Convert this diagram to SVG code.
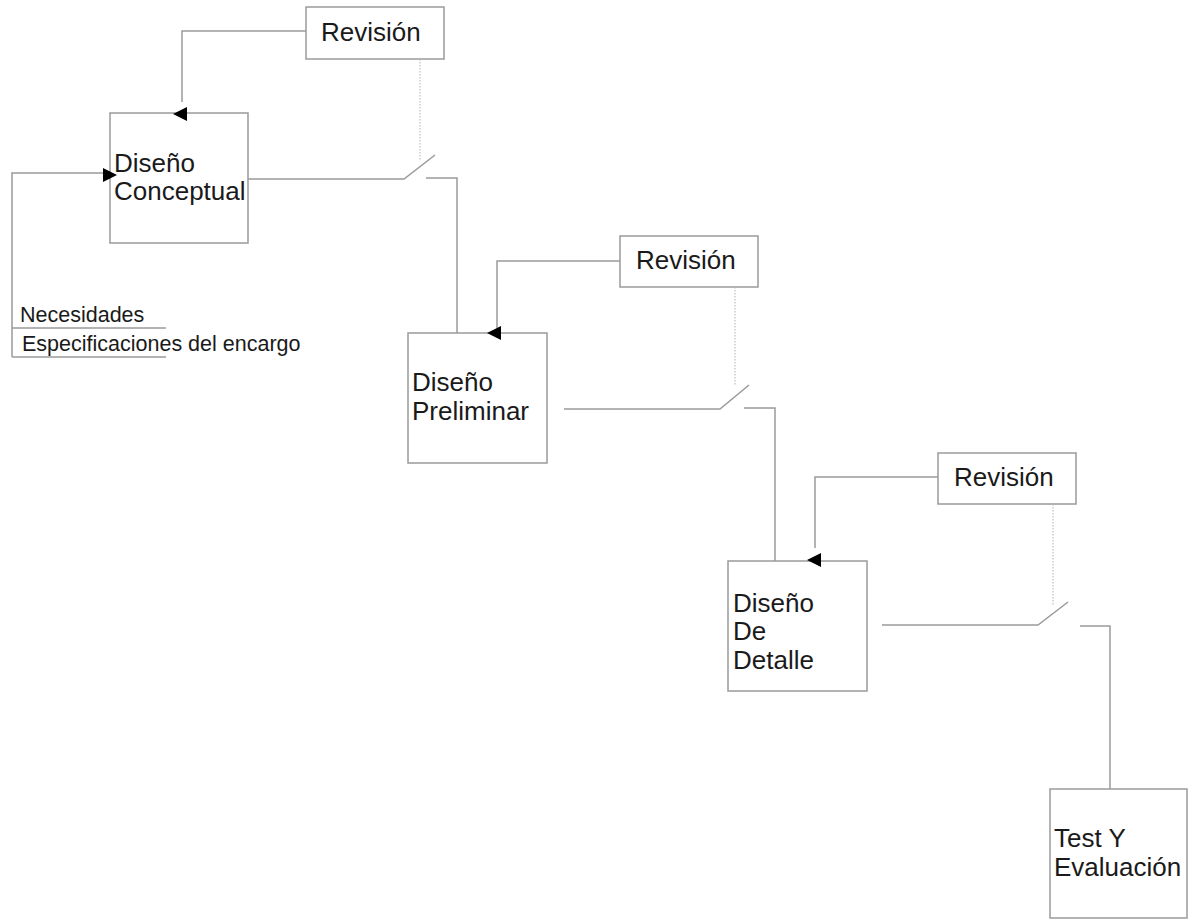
<svg xmlns="http://www.w3.org/2000/svg" width="1192" height="920" viewBox="0 0 1192 920">
<style>
.box{fill:#fff;stroke:#9a9a9a;stroke-width:1.5}
.ln{fill:none;stroke:#9a9a9a;stroke-width:1.5}
.dot{fill:none;stroke:#b0b0b0;stroke-width:1;stroke-dasharray:1.5 1.5}
.t{font-family:"Liberation Sans",Arial,sans-serif;font-size:26px;fill:#1a1a1a}
.s{font-family:"Liberation Sans",Arial,sans-serif;font-size:21.5px;fill:#1a1a1a}
.ah{fill:#000}
</style>
<rect width="1192" height="920" fill="#fff"/>
<g id="rev1"><rect class="box" x="306" y="7" width="138" height="52"/><text class="t" x="321" y="41">Revisión</text></g>
<g id="conceptual"><rect class="box" x="110" y="113" width="138" height="130"/><text class="t" x="114" y="172">Diseño</text><text class="t" x="114" y="200">Conceptual</text></g>
<g id="inputs"><text class="s" x="20" y="322">Necesidades</text><text class="s" x="22" y="351">Especificaciones del encargo</text></g>
<g id="rev2"><rect class="box" x="620" y="236" width="138" height="51"/><text class="t" x="636" y="269">Revisión</text></g>
<g id="preliminar"><rect class="box" x="408" y="333" width="139" height="130"/><text class="t" x="412" y="391">Diseño</text><text class="t" x="412" y="420">Preliminar</text></g>
<g id="rev3"><rect class="box" x="938" y="453" width="138" height="51"/><text class="t" x="954" y="486">Revisión</text></g>
<g id="detalle"><rect class="box" x="728" y="561" width="139" height="130"/><text class="t" x="733" y="612">Diseño</text><text class="t" x="733" y="640">De</text><text class="t" x="733" y="669">Detalle</text></g>
<g id="test"><rect class="box" x="1050" y="789" width="137" height="129"/><text class="t" x="1054" y="847">Test Y</text><text class="t" x="1054" y="876">Evaluación</text></g>
<g id="connectors">
  <polyline class="ln" points="12,357 12,173 104,173"/>
  <polygon class="ah" points="103,168 117,175 103,182"/>
  <line class="ln" x1="12" y1="328" x2="166" y2="328"/>
  <line class="ln" x1="12" y1="357" x2="166" y2="357"/>
  <polyline class="ln" points="306,31 182,31 182,102"/>
  <polygon class="ah" points="173,114 187,107 187,121"/>
  <line class="dot" x1="420" y1="59" x2="420" y2="160"/>
  <polyline class="ln" points="248,179 404,179 435,155"/>
  <polyline class="ln" points="426,178 457,178 457,333"/>
  <polyline class="ln" points="620,261 497,261 497,328"/>
  <polygon class="ah" points="487,333 501,326 501,340"/>
  <line class="dot" x1="735" y1="287" x2="735" y2="386"/>
  <polyline class="ln" points="564,409 720,409 749,385"/>
  <polyline class="ln" points="744,408 775,408 775,561"/>
  <polyline class="ln" points="938,477 815,477 815,548"/>
  <polygon class="ah" points="807,560 821,553 821,567"/>
  <line class="dot" x1="1053" y1="504" x2="1053" y2="605"/>
  <polyline class="ln" points="882,625 1038,625 1068,602"/>
  <polyline class="ln" points="1080,626 1110,626 1110,789"/>
</g>
</svg>
